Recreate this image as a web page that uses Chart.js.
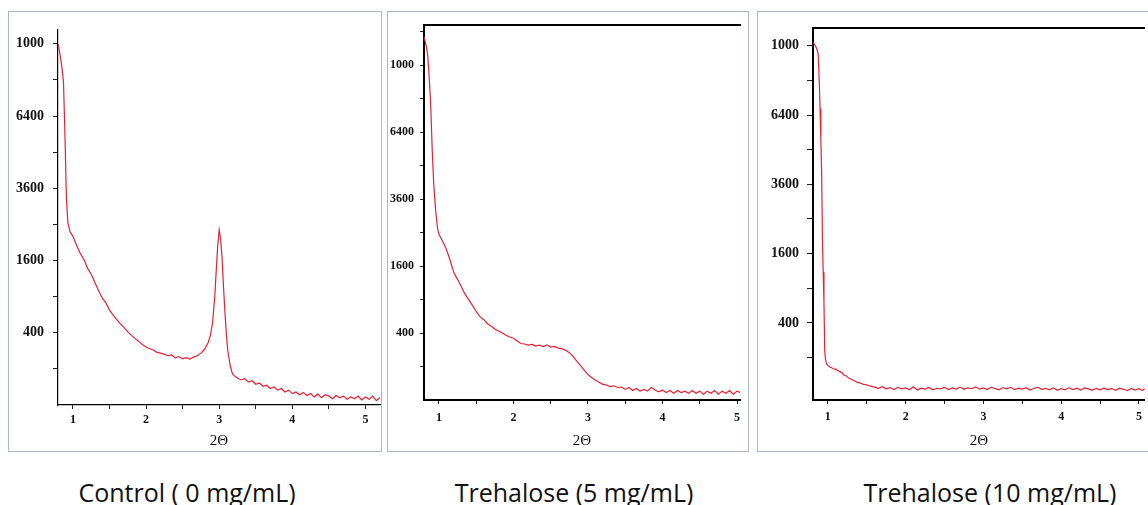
<!DOCTYPE html>
<html>
<head>
<meta charset="utf-8">
<script src="https://cdn.jsdelivr.net/npm/chart.js@4.4.0/dist/chart.umd.min.js"></script>
<style>
  body { margin: 0; width: 1148px; height: 505px; background: #fff; position: relative; overflow: hidden; }
  .frame { position: absolute; border: 1.5px solid #a9b8cf; box-sizing: border-box; }
  canvas { position: absolute; }
  .caption { position: absolute; top: 480px; font-family: 'Open Sans'; font-size: 25px; line-height: 25px; color: #111; white-space: nowrap; transform: translateX(-50%); }
</style>
</head>
<body>
<div class="frame" style="left:8px;top:11px;width:374px;height:441px"></div>
<div class="frame" style="left:387px;top:11px;width:362px;height:441px"></div>
<div class="frame" style="left:757px;top:11px;width:400px;height:441px"></div>

<canvas id="control" width="373" height="439" style="left:8px;top:12px"></canvas>
<canvas id="treh5" width="360" height="439" style="left:388px;top:12px"></canvas>
<canvas id="treh10" width="390" height="439" style="left:758px;top:12px"></canvas>

<div class="caption" style="left:187px">Control ( 0 mg/mL)</div>
<div class="caption" style="left:574px">Trehalose (5 mg/mL)</div>
<div class="caption" style="left:990px">Trehalose (10 mg/mL)</div>

<script>
// axis ticks (2Θ in degrees, intensity in counts on a square-root axis)
const xTickValues = [1, 1.5, 2, 2.5, 3, 3.5, 4, 4.5, 5];
const xTickLabels = ['1', '', '2', '', '3', '', '4', '', '5'];
const yTickCounts = [100, 400, 900, 1600, 2500, 3600, 4900, 6400, 8100, 10000, 12100];
const yTickLabels = ['', '400', '', '1600', '', '3600', '', '6400', '', '1000', ''];

// Control (0 mg/mL)
const controlX = [
  0.795, 0.82, 0.85, 0.87, 0.89, 0.91, 0.93, 0.96, 1.00, 1.05,
  1.10, 1.15, 1.20, 1.25, 1.30, 1.35, 1.40, 1.45, 1.50, 1.55,
  1.60, 1.65, 1.70, 1.75, 1.80, 1.85, 1.90, 1.95, 2.00, 2.05,
  2.10, 2.15, 2.20, 2.25, 2.30, 2.35, 2.40, 2.45, 2.50, 2.55,
  2.60, 2.65, 2.70, 2.75, 2.80, 2.85, 2.88, 2.91, 2.94, 2.96,
  2.98, 3.00, 3.02, 3.04, 3.06, 3.08, 3.10, 3.12, 3.15, 3.18,
  3.22, 3.26, 3.30, 3.35, 3.40, 3.45, 3.50, 3.55, 3.60, 3.65,
  3.70, 3.75, 3.80, 3.85, 3.90, 3.95, 4.00, 4.05, 4.10, 4.15,
  4.20, 4.25, 4.30, 4.35, 4.40, 4.45, 4.50, 4.55, 4.60, 4.65,
  4.70, 4.75, 4.80, 4.85, 4.90, 4.95, 5.00, 5.05, 5.10, 5.15,
  5.20
];
const controlCounts = [
  10000, 9500, 8700, 8000, 5600, 3300, 2550, 2300, 2180, 1950,
  1760, 1620, 1430, 1310, 1150, 1000, 880, 800, 690, 620,
  560, 505, 460, 410, 372, 338, 310, 280, 258, 242,
  232, 212, 206, 196, 186, 192, 170, 180, 164, 172,
  162, 176, 186, 206, 238, 300, 372, 520, 900, 1400,
  1950, 2350, 2100, 1650, 1050, 640, 360, 215, 121, 75,
  62, 54, 49, 53, 40, 45, 33, 37, 27, 30,
  21, 25, 17, 21, 13, 17, 10, 13, 8, 12,
  7, 10, 5, 9, 4, 8, 6, 3, 7, 4,
  6, 2.5, 5, 3, 6, 2, 5, 2.5, 6, 1.5,
  4
];

// Trehalose (5 mg/mL)
const treh5X = [
  0.80, 0.83, 0.85, 0.87, 0.89, 0.91, 0.93, 0.955, 0.98, 1.00,
  1.05, 1.10, 1.15, 1.20, 1.25, 1.30, 1.35, 1.40, 1.45, 1.50,
  1.55, 1.60, 1.65, 1.70, 1.75, 1.80, 1.85, 1.90, 1.95, 2.00,
  2.05, 2.10, 2.15, 2.20, 2.25, 2.30, 2.35, 2.40, 2.45, 2.50,
  2.55, 2.60, 2.65, 2.70, 2.75, 2.80, 2.85, 2.90, 2.95, 3.00,
  3.05, 3.10, 3.15, 3.20, 3.25, 3.30, 3.35, 3.40, 3.45, 3.50,
  3.55, 3.60, 3.65, 3.70, 3.75, 3.80, 3.85, 3.90, 3.95, 4.00,
  4.05, 4.10, 4.15, 4.20, 4.25, 4.30, 4.35, 4.40, 4.45, 4.50,
  4.55, 4.60, 4.65, 4.70, 4.75, 4.80, 4.85, 4.90, 4.95, 5.00,
  5.04
];
const treh5Counts = [
  11800, 11200, 10600, 9300, 7800, 5600, 4200, 3250, 2650, 2450,
  2250, 2030, 1750, 1450, 1300, 1150, 1000, 900, 800, 700,
  620, 580, 520, 490, 450, 425, 400, 375, 355, 340,
  310, 285, 280, 270, 276, 260, 268, 255, 272, 250,
  256, 240, 236, 220, 200, 170, 135, 105, 80, 58,
  45, 35, 28, 22, 20, 16, 18, 14, 15, 10,
  14, 8, 12, 7, 10, 7, 14, 9, 6, 9,
  5, 8, 4, 8, 5, 7, 4, 8, 4, 7,
  3, 7, 4, 8, 3, 7, 4, 8, 3, 7,
  5
];

// Trehalose (10 mg/mL)
const treh10X = [
  0.81, 0.84, 0.86, 0.876, 0.89, 0.90, 0.91, 0.92, 0.93, 0.94,
  0.95, 0.96, 0.97, 0.985, 1.00, 1.03, 1.05, 1.08, 1.10, 1.13,
  1.15, 1.18, 1.21, 1.24, 1.27, 1.30, 1.34, 1.38, 1.42, 1.46,
  1.50, 1.55, 1.60, 1.65, 1.70, 1.75, 1.80, 1.85, 1.90, 1.95,
  2.00, 2.05, 2.10, 2.15, 2.20, 2.25, 2.30, 2.35, 2.40, 2.45,
  2.50, 2.55, 2.60, 2.65, 2.70, 2.75, 2.80, 2.85, 2.90, 2.95,
  3.00, 3.05, 3.10, 3.15, 3.20, 3.25, 3.30, 3.35, 3.40, 3.45,
  3.50, 3.55, 3.60, 3.65, 3.70, 3.75, 3.80, 3.85, 3.90, 3.95,
  4.00, 4.05, 4.10, 4.15, 4.20, 4.25, 4.30, 4.35, 4.40, 4.45,
  4.50, 4.55, 4.60, 4.65, 4.70, 4.75, 4.80, 4.85, 4.90, 4.95,
  5.00, 5.04, 5.08
];
const treh10Counts = [
  10200, 10000, 9800, 9500, 8000, 6700, 5300, 4000, 2000, 1200,
  665, 140, 90, 65, 60, 52, 50, 44, 45, 38,
  36, 32, 24, 22, 16, 14, 11, 8, 7, 5,
  4.5, 3, 2.2, 1.2, 2.5, 1, 1.8, 0.6, 2, 0.9,
  1.6, 0.5, 2.4, 0.4, 1.4, 0.8, 1.9, 0.5, 1.3, 0.9,
  2, 0.6, 1.5, 0.8, 2.2, 0.7, 1.6, 1, 2.4, 0.8,
  1.5, 0.6, 2.2, 1.1, 0.5, 1.8, 0.9, 2, 0.6, 1.4,
  0.8, 1.7, 0.4, 1.3, 2, 0.7, 1.2, 0.5, 1.6, 0.3,
  1.1, 0.5, 1.6, 0.6, 1.3, 0.4, 1.5, 0.9, 0.3, 1.2,
  0.5, 1.4, 0.6, 1.1, 0.3, 1.3, 0.7, 0.2, 1.2, 0.4,
  1, 0.3, 0.8
];

const lineColor = 'rgb(232, 32, 48)';

function makeChart(id, xs, counts, o) {
    const ctx = document.getElementById(id).getContext('2d');
    return new Chart(ctx, {
        type: 'line',
        data: {
            datasets: [{
                data: xs.map((x, i) => ({ x: x, y: Math.sqrt(counts[i]) })),
                borderColor: lineColor,
                borderWidth: 1.2,
                pointRadius: 0,
                tension: 0
            }]
        },
        options: {
            responsive: false,
            animation: false,
            layout: { padding: { top: o.padTop, right: o.padRight, left: 0, bottom: 0 } },
            plugins: { legend: { display: false }, tooltip: { enabled: false } },
            scales: {
                x: {
                    type: 'linear',
                    min: o.xMin,
                    max: o.xMax,
                    afterBuildTicks: s => { s.ticks = xTickValues.map(v => ({ value: v })); },
                    afterFit: s => { s.height = o.xHeight; },
                    ticks: {
                        autoSkip: false,
                        maxRotation: 0,
                        padding: o.xPad,
                        color: '#111',
                        font: { family: 'Liberation Serif', size: 12, weight: 'bold' },
                        callback: v => xTickLabels[xTickValues.indexOf(v)]
                    },
                    grid: { drawOnChartArea: false, tickLength: 4, tickColor: '#222' },
                    border: { color: '#000', width: o.axisWidth },
                    title: {
                        display: true,
                        text: '2Θ',
                        color: '#111',
                        font: { family: 'Liberation Serif', size: 15 },
                        padding: { top: 0, bottom: 1 }
                    }
                },
                y: {
                    type: 'linear',
                    min: o.yMin,
                    max: o.yMax,
                    afterBuildTicks: s => {
                        s.ticks = yTickCounts.map(c => ({ value: Math.sqrt(c) }))
                            .filter(t => t.value <= o.yMax);
                    },
                    afterFit: s => { s.width = o.yWidth; },
                    ticks: {
                        padding: o.yPad,
                        color: '#111',
                        font: { family: 'Liberation Serif', size: o.yFont, weight: 'bold' },
                        callback: v => yTickLabels[yTickCounts.indexOf(Math.round(v * v))]
                    },
                    grid: { drawOnChartArea: false, tickLength: o.yTick, tickColor: '#222' },
                    border: { color: '#000', width: o.axisWidth }
                },
                xTop: {
                    axis: 'x',
                    type: 'linear',
                    position: 'top',
                    display: o.topLine,
                    min: 0,
                    max: 1,
                    afterFit: s => { s.height = 0; },
                    ticks: { display: false },
                    grid: { display: false, drawTicks: false },
                    border: { display: true, color: '#000', width: 2 }
                }
            }
        }
    });
}

makeChart('control', controlX, controlCounts, {
    xMin: 0.795, xMax: 5.2, yMin: 0, yMax: 104,
    padTop: 0, padRight: 1, yWidth: 50, xHeight: 46,
    xPad: 4, yPad: 9, yTick: 5, yFont: 14, axisWidth: 1.2, topLine: false
});
makeChart('treh5', treh5X, treh5Counts, {
    xMin: 0.80, xMax: 5.04, yMin: 0, yMax: 112,
    padTop: 7, padRight: 8, yWidth: 36, xHeight: 51,
    xPad: 7, yPad: 6, yTick: 4, yFont: 12, axisWidth: 2, topLine: true
});
makeChart('treh10', treh10X, treh10Counts, {
    xMin: 0.809, xMax: 5.076, yMin: -2.25, yMax: 105,
    padTop: 6, padRight: 0, yWidth: 55, xHeight: 51,
    xPad: 6, yPad: 8, yTick: 6, yFont: 14, axisWidth: 2, topLine: true
});
</script>
</body>
</html>
